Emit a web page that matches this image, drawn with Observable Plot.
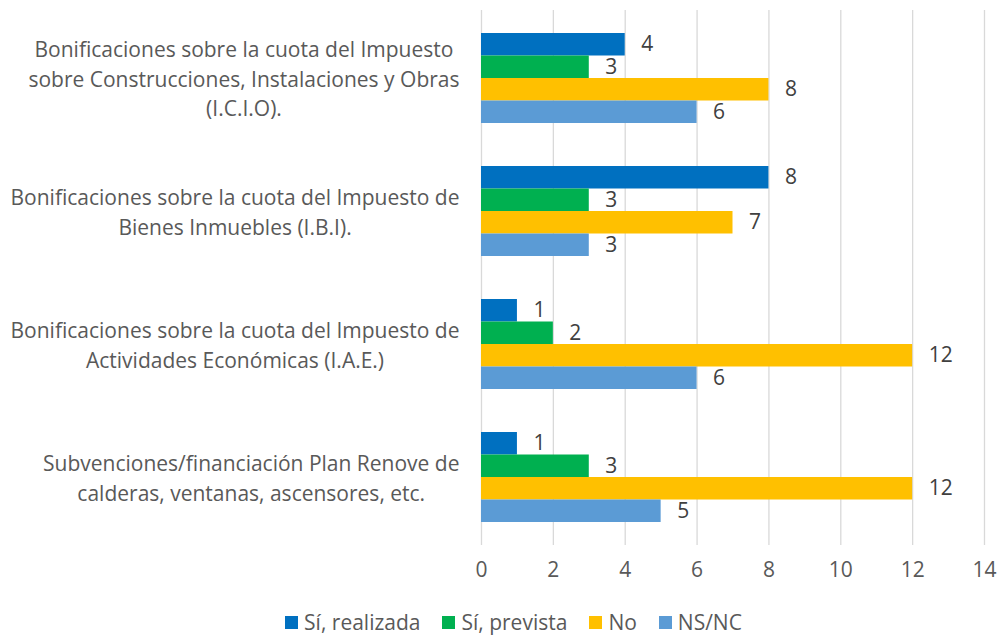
<!DOCTYPE html>
<html>
<head>
<meta charset="utf-8">
<script src="https://cdn.jsdelivr.net/npm/d3@7"></script>
<script src="https://cdn.jsdelivr.net/npm/@observablehq/plot@0.6"></script>
<style>
  body { margin: 0; background: #fff; font-family: "Open Sans", sans-serif; }
  #legend { display: flex; justify-content: center; align-items: center; gap: 22px; margin-top: 13px; margin-left: 30px; font-size: 21px; color: #595959; }
  #legend span.item { display: flex; align-items: center; }
  #legend span.sw { width: 13px; height: 13px; display: inline-block; margin-right: 6px; }
</style>
</head>
<body>
<div id="chart"></div>
<div id="legend"></div>
<script>
const categories = [
  "Bonificaciones sobre la cuota del Impuesto\nsobre Construcciones, Instalaciones y Obras\n(I.C.I.O).",
  "Bonificaciones sobre la cuota del Impuesto de\nBienes Inmuebles (I.B.I).",
  "Bonificaciones sobre la cuota del Impuesto de\nActividades Económicas (I.A.E.)",
  "Subvenciones/financiación Plan Renove de\ncalderas, ventanas, ascensores, etc."
];
const seriesNames = ["Sí, realizada", "Sí, prevista", "No", "NS/NC"];
const realizada = [4, 8, 1, 1];
const prevista = [3, 3, 2, 3];
const no = [8, 7, 12, 12];
const nsnc = [6, 3, 6, 5];
const colors = ["#0070C0", "#00B050", "#FFC000", "#5B9BD5"];
const xTicks = [0, 2, 4, 6, 8, 10, 12, 14];

const seriesValues = [realizada, prevista, no, nsnc];
const bandH = 90;
const barH = bandH / seriesNames.length;
const labelFont = 21;
const marginLeft = 481;
const labelRight = 459;

const ctx = document.createElement("canvas").getContext("2d");
ctx.font = `${labelFont}px "Open Sans"`;
function blockWidth(s) {
  return Math.max(...s.split("\n").map(l => ctx.measureText(l).width));
}

const marks = [
  Plot.ruleX(xTicks, {stroke: "#d9d9d9", strokeWidth: 1.3})
];
seriesNames.forEach((s, i) => {
  const data = categories.map((c, j) => ({cat: c, series: s, value: seriesValues[i][j]}));
  marks.push(Plot.barX(data, {
    y: "cat", x: "value", fill: colors[i],
    insetTop: i * barH, insetBottom: (seriesNames.length - 1 - i) * barH
  }));
  marks.push(Plot.text(data, {
    y: "cat", x: "value", text: d => String(d.value),
    dx: 16, dy: -bandH / 2 + barH * i + barH / 2,
    textAnchor: "start", fill: "#404040", fontSize: 21
  }));
});
categories.forEach(c => {
  marks.push(Plot.text([c], {
    y: d => d, text: d => d, frameAnchor: "left",
    dx: -(marginLeft - labelRight) - blockWidth(c) / 2, dy: -1,
    textAnchor: "middle", fill: "#595959", fontSize: labelFont, lineHeight: 1.405
  }));
});

const chart = Plot.plot({
  width: 997,
  height: 595,
  marginLeft: marginLeft,
  marginRight: 13,
  marginTop: 10,
  marginBottom: 50,
  style: {fontFamily: "Open Sans, sans-serif", background: "#fff", overflow: "visible"},
  x: {domain: [0, 14], ticks: xTicks, tickSize: 0, tickPadding: 18, label: null},
  y: {domain: categories, paddingInner: 0.327, paddingOuter: 0.1635, axis: null},
  marks: [
    ...marks,
    Plot.axisX({ticks: xTicks, tickSize: 0, tickPadding: 17, fontSize: 21, fill: "#595959", label: null})
  ]
});
document.getElementById("chart").appendChild(chart);

const legend = document.getElementById("legend");
seriesNames.forEach((s, i) => {
  const item = document.createElement("span");
  item.className = "item";
  const sw = document.createElement("span");
  sw.className = "sw";
  sw.style.background = colors[i];
  item.appendChild(sw);
  item.appendChild(document.createTextNode(s));
  legend.appendChild(item);
});
</script>
</body>
</html>
